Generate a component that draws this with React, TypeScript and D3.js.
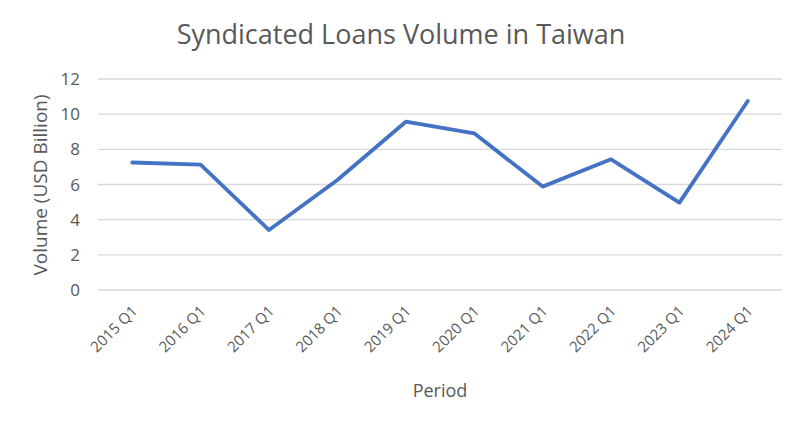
import React from "react";
import * as d3 from "d3";

const periods = ["2015 Q1", "2016 Q1", "2017 Q1", "2018 Q1", "2019 Q1", "2020 Q1", "2021 Q1", "2022 Q1", "2023 Q1", "2024 Q1"];
const volumes = [7.25, 7.13, 3.41, 6.26, 9.57, 8.91, 5.88, 7.43, 4.97, 10.75];
const yTicks = [0, 2, 4, 6, 8, 10, 12];

const W = 800, H = 430;
const left = 98, right = 782, top = 79, bottom = 290;
const FONT = "'Open Sans', 'Liberation Sans', sans-serif";
const TXT = "#595959";

export default function App() {
  const x = d3.scaleBand<string>().domain(periods).range([left, right]);
  const y = d3.scaleLinear().domain([0, 12]).range([bottom, top]);
  const line = d3.line<number>()
    .x((_, i) => (x(periods[i]) as number) + x.bandwidth() / 2)
    .y((d) => y(d));
  return (
    <svg width={W} height={H} style={{ position: "absolute", left: 0, top: 0, background: "#fff" }} fontFamily={FONT}>
      <rect x={0} y={0} width={W} height={H} fill="#fff" />
      <text x={401} y={44} textAnchor="middle" fontSize={27} fill={TXT}>Syndicated Loans Volume in Taiwan</text>
      {yTicks.map((t) => (
        <g key={t}>
          <line x1={left} x2={right} y1={y(t)} y2={y(t)} stroke="#d9d9d9" strokeWidth={1.3} />
          <text x={80} y={y(t)} dy="0.36em" textAnchor="end" fontSize={17} fill={TXT}>{t}</text>
        </g>
      ))}
      {periods.map((p) => {
        const cx = (x(p) as number) + x.bandwidth() / 2;
        return (
          <text key={p} transform={`translate(${cx + 6},${312}) rotate(-45)`} textAnchor="end" fontSize={15} fill={TXT}>{p}</text>
        );
      })}
      <path d={line(volumes) || ""} fill="none" stroke="#4472C4" strokeWidth={3.8} strokeLinejoin="round" strokeLinecap="round" />
      <text x={440} y={397} textAnchor="middle" fontSize={18} fill={TXT}>Period</text>
      <text transform={`translate(47,185) rotate(-90)`} textAnchor="middle" fontSize={19} fill={TXT}>Volume (USD Billion)</text>
    </svg>
  );
}
